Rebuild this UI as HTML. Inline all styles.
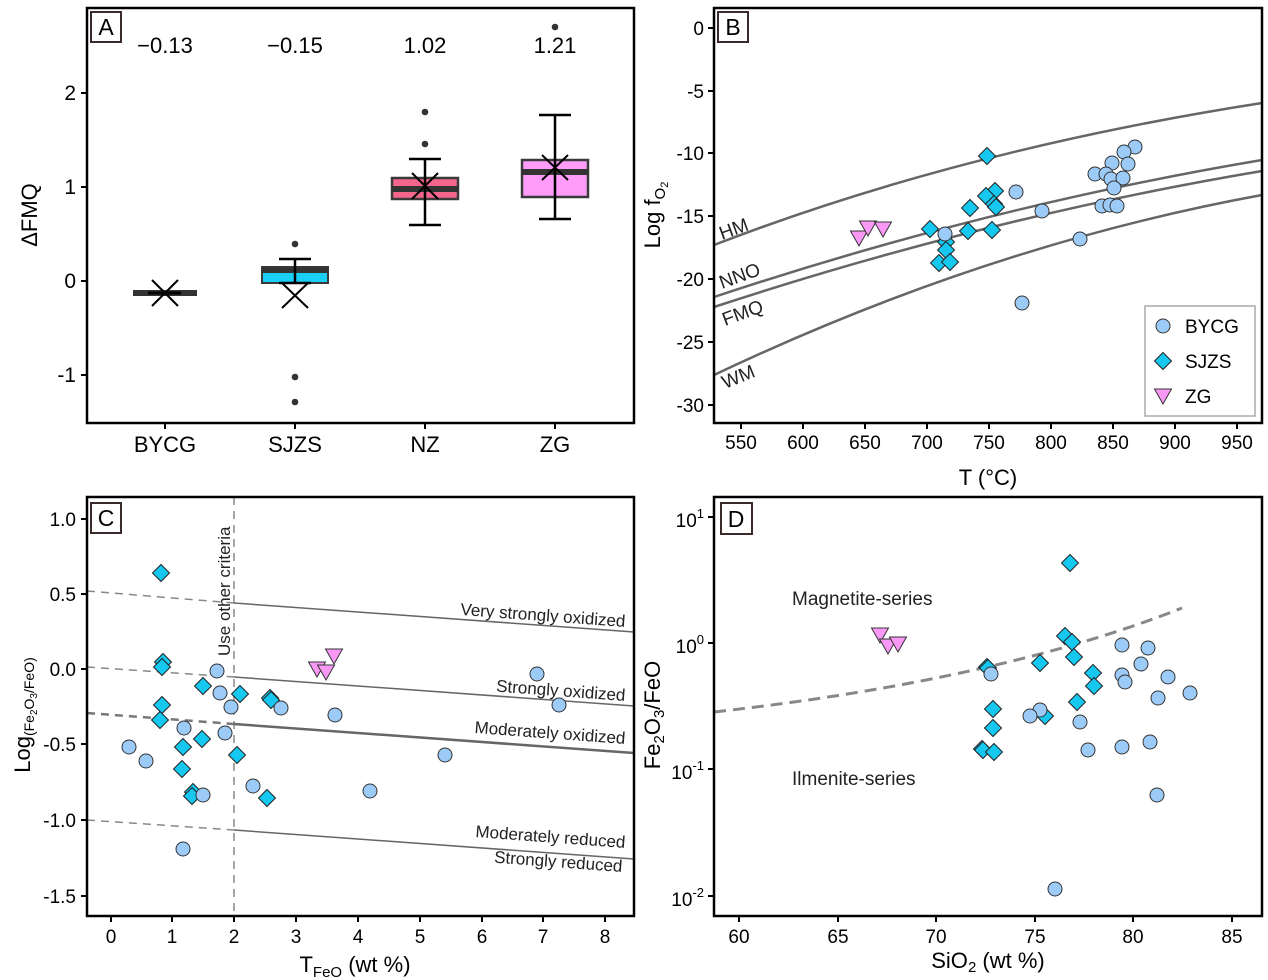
<!DOCTYPE html>
<html><head><meta charset="utf-8"><style>
html,body{margin:0;padding:0;background:#fff;}
svg{display:block;font-family:"Liberation Sans",Arial,sans-serif;}
</style></head><body>
<svg width="1268" height="980" viewBox="0 0 1268 980" xmlns="http://www.w3.org/2000/svg">
<defs>
<g id="c"><circle r="7" fill="#9ccbf7" stroke="#333" stroke-width="1"/></g>
<g id="d"><polygon points="0,-8.5 8.5,0 0,8.5 -8.5,0" fill="#16c8f0" stroke="#222" stroke-width="1"/></g>
<g id="t"><polygon points="-8.5,-6 8.5,-6 0,9" fill="#fa98f6" stroke="#333" stroke-width="1"/></g>
</defs>

<!-- ================= PANEL A ================= -->
<g>
<rect x="87" y="8" width="547" height="415" fill="none" stroke="#000" stroke-width="2.5"/>
<rect x="91" y="12" width="30" height="30" fill="#fff" stroke="#3a2a2a" stroke-width="2"/>
<text x="106" y="35" font-size="23" text-anchor="middle">A</text>
<g stroke="#000" stroke-width="2">
<line x1="81" y1="93" x2="87" y2="93"/><line x1="81" y1="187" x2="87" y2="187"/>
<line x1="81" y1="281" x2="87" y2="281"/><line x1="81" y1="375" x2="87" y2="375"/>
<line x1="165" y1="423" x2="165" y2="429"/><line x1="295" y1="423" x2="295" y2="429"/>
<line x1="425" y1="423" x2="425" y2="429"/><line x1="555" y1="423" x2="555" y2="429"/>
</g>
<g font-size="21" text-anchor="end">
<text x="76" y="100">2</text><text x="76" y="194">1</text><text x="76" y="288">0</text><text x="76" y="382">-1</text>
</g>
<g font-size="22" text-anchor="middle">
<text x="165" y="452">BYCG</text><text x="295" y="452">SJZS</text><text x="425" y="452">NZ</text><text x="555" y="452">ZG</text>
<text x="165" y="53">−0.13</text><text x="295" y="53">−0.15</text><text x="425" y="53">1.02</text><text x="555" y="53">1.21</text>
</g>
<text transform="translate(37,215) rotate(-90)" font-size="22" text-anchor="middle">ΔFMQ</text>
<rect x="133" y="290" width="64" height="6" fill="#333"/>
<line x1="148" y1="293" x2="181" y2="293" stroke="#000" stroke-width="3"/>
<g stroke="#000" stroke-width="2"><line x1="152" y1="280" x2="178" y2="306"/><line x1="152" y1="306" x2="178" y2="280"/></g>
<rect x="262" y="267" width="66" height="16" fill="#1acff7" stroke="#3a3a3a" stroke-width="2"/>
<rect x="262" y="267" width="66" height="6" fill="#333"/>
<g stroke="#000" stroke-width="2.5">
<line x1="295" y1="259" x2="295" y2="283"/><line x1="279" y1="259" x2="311" y2="259"/>
<line x1="279" y1="283" x2="311" y2="283"/>
</g>
<g stroke="#000" stroke-width="2"><line x1="282" y1="283" x2="308" y2="308"/><line x1="282" y1="308" x2="308" y2="283"/></g>
<g fill="#333"><circle cx="295" cy="244" r="3.3"/><circle cx="295" cy="377" r="3.3"/><circle cx="295" cy="402" r="3.3"/></g>
<rect x="392" y="178" width="66" height="21" fill="#f6668c" stroke="#3a3a3a" stroke-width="2.5"/>
<rect x="392" y="186" width="66" height="6" fill="#333"/>
<g stroke="#000" stroke-width="2.5">
<line x1="425" y1="159" x2="425" y2="225"/><line x1="409" y1="159" x2="441" y2="159"/><line x1="409" y1="225" x2="441" y2="225"/>
</g>
<g stroke="#000" stroke-width="2"><line x1="412" y1="173" x2="438" y2="199"/><line x1="412" y1="199" x2="438" y2="173"/></g>
<g fill="#333"><circle cx="425" cy="112" r="3.3"/><circle cx="425" cy="144" r="3.3"/></g>
<rect x="522" y="160" width="66" height="37" fill="#ff9cf9" stroke="#3a3a3a" stroke-width="2.5"/>
<rect x="522" y="169" width="66" height="6" fill="#333"/>
<g stroke="#000" stroke-width="2.5">
<line x1="555" y1="115" x2="555" y2="219"/><line x1="539" y1="115" x2="571" y2="115"/><line x1="539" y1="219" x2="571" y2="219"/>
</g>
<g stroke="#000" stroke-width="2"><line x1="542" y1="155" x2="568" y2="180"/><line x1="542" y1="180" x2="568" y2="155"/></g>
<circle cx="555" cy="27" r="3.3" fill="#333"/>
</g>

<!-- ================= PANEL B ================= -->
<g>
<g fill="none" stroke="#666" stroke-width="2.5">
<path d="M714,245 Q960,150 1262,103"/>
<path d="M714,297 Q988,206 1262,160"/>
<path d="M714,307 Q988,217 1262,171"/>
<path d="M714,375 Q988,245 1262,195"/>
</g>
<g font-size="19" fill="#222">
<text transform="translate(722,240) rotate(-20)">HM</text>
<text transform="translate(722,289) rotate(-20)">NNO</text>
<text transform="translate(725,326) rotate(-20)">FMQ</text>
<text transform="translate(725,389) rotate(-22)">WM</text>
</g>
<g>
<use href="#t" x="859" y="237"/><use href="#t" x="868" y="227"/><use href="#t" x="883" y="228"/>
<use href="#d" x="987" y="156"/><use href="#d" x="995" y="191"/><use href="#d" x="986" y="196"/><use href="#d" x="994" y="204"/><use href="#d" x="996" y="207"/>
<use href="#d" x="970" y="208"/><use href="#d" x="930" y="229"/><use href="#d" x="968" y="231"/><use href="#d" x="992" y="230"/>
<use href="#d" x="946" y="242"/><use href="#d" x="946" y="250"/><use href="#d" x="939" y="263"/><use href="#d" x="950" y="262"/>
<use href="#c" x="945" y="234"/><use href="#c" x="1016" y="192"/><use href="#c" x="1042" y="211"/><use href="#c" x="1080" y="239"/><use href="#c" x="1022" y="303"/>
<use href="#c" x="1135" y="147"/><use href="#c" x="1124" y="152"/><use href="#c" x="1112" y="163"/><use href="#c" x="1128" y="164"/>
<use href="#c" x="1095" y="174"/><use href="#c" x="1106" y="174"/><use href="#c" x="1111" y="179"/><use href="#c" x="1123" y="178"/>
<use href="#c" x="1114" y="188"/><use href="#c" x="1102" y="206"/><use href="#c" x="1110" y="205"/><use href="#c" x="1117" y="206"/>
</g>
<rect x="714" y="8" width="548" height="415" fill="none" stroke="#000" stroke-width="2.5"/>
<rect x="718" y="12" width="30" height="30" fill="#fff" stroke="#3a2a2a" stroke-width="2"/>
<text x="733" y="35" font-size="23" text-anchor="middle">B</text>
<rect x="1145" y="306" width="110" height="110" fill="#fff" stroke="#aaa" stroke-width="1.5"/>
<use href="#c" x="1163" y="326"/><use href="#d" x="1163" y="361"/><use href="#t" x="1163" y="395"/>
<g font-size="19"><text x="1185" y="333">BYCG</text><text x="1185" y="368">SJZS</text><text x="1185" y="403">ZG</text></g>
<g stroke="#000" stroke-width="2">
<line x1="708" y1="28" x2="714" y2="28"/><line x1="708" y1="91" x2="714" y2="91"/><line x1="708" y1="153" x2="714" y2="153"/>
<line x1="708" y1="216" x2="714" y2="216"/><line x1="708" y1="279" x2="714" y2="279"/><line x1="708" y1="342" x2="714" y2="342"/><line x1="708" y1="405" x2="714" y2="405"/>
<line x1="741" y1="423" x2="741" y2="429"/><line x1="803" y1="423" x2="803" y2="429"/><line x1="865" y1="423" x2="865" y2="429"/>
<line x1="927" y1="423" x2="927" y2="429"/><line x1="989" y1="423" x2="989" y2="429"/><line x1="1051" y1="423" x2="1051" y2="429"/>
<line x1="1113" y1="423" x2="1113" y2="429"/><line x1="1175" y1="423" x2="1175" y2="429"/><line x1="1237" y1="423" x2="1237" y2="429"/>
</g>
<g font-size="19" text-anchor="end">
<text x="704" y="35">0</text><text x="704" y="98">-5</text><text x="704" y="160">-10</text><text x="704" y="223">-15</text>
<text x="704" y="286">-20</text><text x="704" y="349">-25</text><text x="704" y="412">-30</text>
</g>
<g font-size="19" text-anchor="middle">
<text x="741" y="449">550</text><text x="803" y="449">600</text><text x="865" y="449">650</text><text x="927" y="449">700</text>
<text x="989" y="449">750</text><text x="1051" y="449">800</text><text x="1113" y="449">850</text><text x="1175" y="449">900</text><text x="1237" y="449">950</text>
</g>
<text x="988" y="485" font-size="22" text-anchor="middle">T (°C)</text>
<text transform="translate(660,215) rotate(-90)" font-size="22" text-anchor="middle">Log f<tspan font-size="15" dy="5">O</tspan><tspan font-size="11" dy="3">2</tspan></text>
</g>

<!-- ================= PANEL C ================= -->
<g>
<g stroke="#888" stroke-width="1.5" stroke-dasharray="8,6" fill="none">
<line x1="87" y1="591" x2="234" y2="603"/><line x1="87" y1="667" x2="234" y2="677"/>
<line x1="87" y1="820" x2="234" y2="830"/>
<line x1="234" y1="497" x2="234" y2="916"/>
</g>
<line x1="87" y1="713" x2="234" y2="724" stroke="#777" stroke-width="2.5" stroke-dasharray="8,6"/>
<g stroke="#666" stroke-width="1.5">
<line x1="234" y1="603" x2="634" y2="632"/><line x1="234" y1="677" x2="634" y2="706"/><line x1="234" y1="830" x2="634" y2="859"/>
</g>
<line x1="234" y1="724" x2="634" y2="753" stroke="#666" stroke-width="2.5"/>
<g font-size="17" fill="#222" text-anchor="end">
<text transform="translate(625,627) rotate(4.2)">Very strongly oxidized</text>
<text transform="translate(625,701) rotate(4.2)">Strongly oxidized</text>
<text transform="translate(625,744) rotate(4.2)">Moderately oxidized</text>
<text transform="translate(625,848) rotate(4.2)">Moderately reduced</text>
<text transform="translate(622,872) rotate(4.2)">Strongly reduced</text>
</g>
<text transform="translate(230,656) rotate(-90)" font-size="17" fill="#222">Use other criteria</text>
<g>
<use href="#t" x="334" y="655"/><use href="#t" x="317" y="668"/><use href="#t" x="326" y="671"/>
<use href="#d" x="161" y="573"/><use href="#d" x="163" y="662"/><use href="#d" x="162" y="667"/><use href="#d" x="203" y="686"/>
<use href="#d" x="240" y="694"/><use href="#d" x="270" y="698"/><use href="#d" x="271" y="700"/><use href="#d" x="162" y="705"/>
<use href="#d" x="160" y="720"/><use href="#d" x="202" y="739"/><use href="#d" x="183" y="747"/><use href="#d" x="237" y="755"/>
<use href="#d" x="182" y="769"/><use href="#d" x="193" y="792"/><use href="#d" x="192" y="796"/><use href="#d" x="267" y="798"/>
<use href="#c" x="217" y="671"/><use href="#c" x="220" y="693"/><use href="#c" x="231" y="707"/><use href="#c" x="281" y="708"/>
<use href="#c" x="335" y="715"/><use href="#c" x="184" y="728"/><use href="#c" x="225" y="733"/><use href="#c" x="129" y="747"/>
<use href="#c" x="146" y="761"/><use href="#c" x="445" y="755"/><use href="#c" x="253" y="786"/><use href="#c" x="203" y="795"/>
<use href="#c" x="370" y="791"/><use href="#c" x="183" y="849"/><use href="#c" x="537" y="674"/><use href="#c" x="559" y="705"/>
</g>
<rect x="87" y="497" width="547" height="419" fill="none" stroke="#000" stroke-width="2.5"/>
<rect x="91" y="503" width="30" height="30" fill="#fff" stroke="#3a2a2a" stroke-width="2"/>
<text x="106" y="526" font-size="23" text-anchor="middle">C</text>
<g stroke="#000" stroke-width="2">
<line x1="81" y1="519" x2="87" y2="519"/><line x1="81" y1="594" x2="87" y2="594"/><line x1="81" y1="669" x2="87" y2="669"/>
<line x1="81" y1="744" x2="87" y2="744"/><line x1="81" y1="820" x2="87" y2="820"/><line x1="81" y1="896" x2="87" y2="896"/>
<line x1="111" y1="916" x2="111" y2="922"/><line x1="172" y1="916" x2="172" y2="922"/><line x1="234" y1="916" x2="234" y2="922"/>
<line x1="296" y1="916" x2="296" y2="922"/><line x1="358" y1="916" x2="358" y2="922"/><line x1="420" y1="916" x2="420" y2="922"/>
<line x1="482" y1="916" x2="482" y2="922"/><line x1="543" y1="916" x2="543" y2="922"/><line x1="605" y1="916" x2="605" y2="922"/>
</g>
<g font-size="19" text-anchor="end">
<text x="76" y="526">1.0</text><text x="76" y="601">0.5</text><text x="76" y="676">0.0</text>
<text x="76" y="751">-0.5</text><text x="76" y="827">-1.0</text><text x="76" y="903">-1.5</text>
</g>
<g font-size="19" text-anchor="middle">
<text x="111" y="943">0</text><text x="172" y="943">1</text><text x="234" y="943">2</text><text x="296" y="943">3</text>
<text x="358" y="943">4</text><text x="420" y="943">5</text><text x="482" y="943">6</text><text x="543" y="943">7</text><text x="605" y="943">8</text>
</g>
<text x="355" y="972" font-size="22" text-anchor="middle">T<tspan font-size="15" dy="5">FeO</tspan><tspan dy="-5"> (wt %)</tspan></text>
<text transform="translate(30,715) rotate(-90)" font-size="22" text-anchor="middle">Log<tspan font-size="14" dy="4">(Fe</tspan><tspan font-size="10" dy="3">2</tspan><tspan font-size="14" dy="-3">O</tspan><tspan font-size="10" dy="3">3</tspan><tspan font-size="14" dy="-3">/FeO)</tspan></text>
</g>

<!-- ================= PANEL D ================= -->
<g>
<path d="M714,712 Q1000,680 1182,608" fill="none" stroke="#888" stroke-width="3" stroke-dasharray="12,7"/>
<text x="792" y="605" font-size="19" fill="#222">Magnetite-series</text>
<text x="792" y="785" font-size="19" fill="#222">Ilmenite-series</text>
<g>
<use href="#t" x="880" y="634"/><use href="#t" x="888" y="645"/><use href="#t" x="898" y="643"/>
<use href="#d" x="1070" y="563"/><use href="#d" x="1065" y="636"/><use href="#d" x="1072" y="642"/><use href="#d" x="1040" y="663"/>
<use href="#d" x="1074" y="657"/><use href="#d" x="1093" y="673"/><use href="#d" x="1094" y="686"/><use href="#d" x="987" y="667"/>
<use href="#d" x="988" y="668"/><use href="#d" x="993" y="709"/><use href="#d" x="993" y="728"/><use href="#d" x="982" y="749"/>
<use href="#d" x="983" y="750"/><use href="#d" x="994" y="752"/><use href="#d" x="1077" y="702"/><use href="#d" x="1045" y="716"/>
<use href="#c" x="1122" y="645"/><use href="#c" x="1148" y="648"/><use href="#c" x="1141" y="664"/><use href="#c" x="1122" y="675"/>
<use href="#c" x="1125" y="682"/><use href="#c" x="1168" y="677"/><use href="#c" x="1158" y="698"/><use href="#c" x="1190" y="693"/>
<use href="#c" x="1040" y="710"/><use href="#c" x="1030" y="716"/><use href="#c" x="1080" y="722"/><use href="#c" x="1088" y="750"/>
<use href="#c" x="1122" y="747"/><use href="#c" x="1150" y="742"/><use href="#c" x="1157" y="795"/><use href="#c" x="991" y="674"/>
<use href="#c" x="1055" y="889"/>
</g>
<rect x="714" y="497" width="548" height="419" fill="none" stroke="#000" stroke-width="2.5"/>
<rect x="721" y="503" width="31" height="31" fill="#fff" stroke="#3a2a2a" stroke-width="2"/>
<text x="736" y="527" font-size="23" text-anchor="middle">D</text>
<g stroke="#000" stroke-width="2">
<line x1="708" y1="517" x2="714" y2="517"/><line x1="708" y1="643" x2="714" y2="643"/><line x1="708" y1="769" x2="714" y2="769"/><line x1="708" y1="896" x2="714" y2="896"/>
<line x1="739" y1="916" x2="739" y2="922"/><line x1="838" y1="916" x2="838" y2="922"/><line x1="936" y1="916" x2="936" y2="922"/>
<line x1="1035" y1="916" x2="1035" y2="922"/><line x1="1133" y1="916" x2="1133" y2="922"/><line x1="1232" y1="916" x2="1232" y2="922"/>
</g>
<g font-size="19" text-anchor="end">
<text x="704" y="527">10<tspan font-size="13" dy="-9">1</tspan></text>
<text x="704" y="653">10<tspan font-size="13" dy="-9">0</tspan></text>
<text x="704" y="779">10<tspan font-size="13" dy="-9">-1</tspan></text>
<text x="704" y="906">10<tspan font-size="13" dy="-9">-2</tspan></text>
</g>
<g font-size="19" text-anchor="middle">
<text x="739" y="943">60</text><text x="838" y="943">65</text><text x="936" y="943">70</text>
<text x="1035" y="943">75</text><text x="1133" y="943">80</text><text x="1232" y="943">85</text>
</g>
<text x="988" y="968" font-size="22" text-anchor="middle">SiO<tspan font-size="15" dy="4">2</tspan><tspan dy="-4"> (wt %)</tspan></text>
<text transform="translate(660,715) rotate(-90)" font-size="22" text-anchor="middle">Fe<tspan font-size="15" dy="4">2</tspan><tspan dy="-4">O</tspan><tspan font-size="15" dy="4">3</tspan><tspan dy="-4">/FeO</tspan></text>
</g>
</svg>
</body></html>
